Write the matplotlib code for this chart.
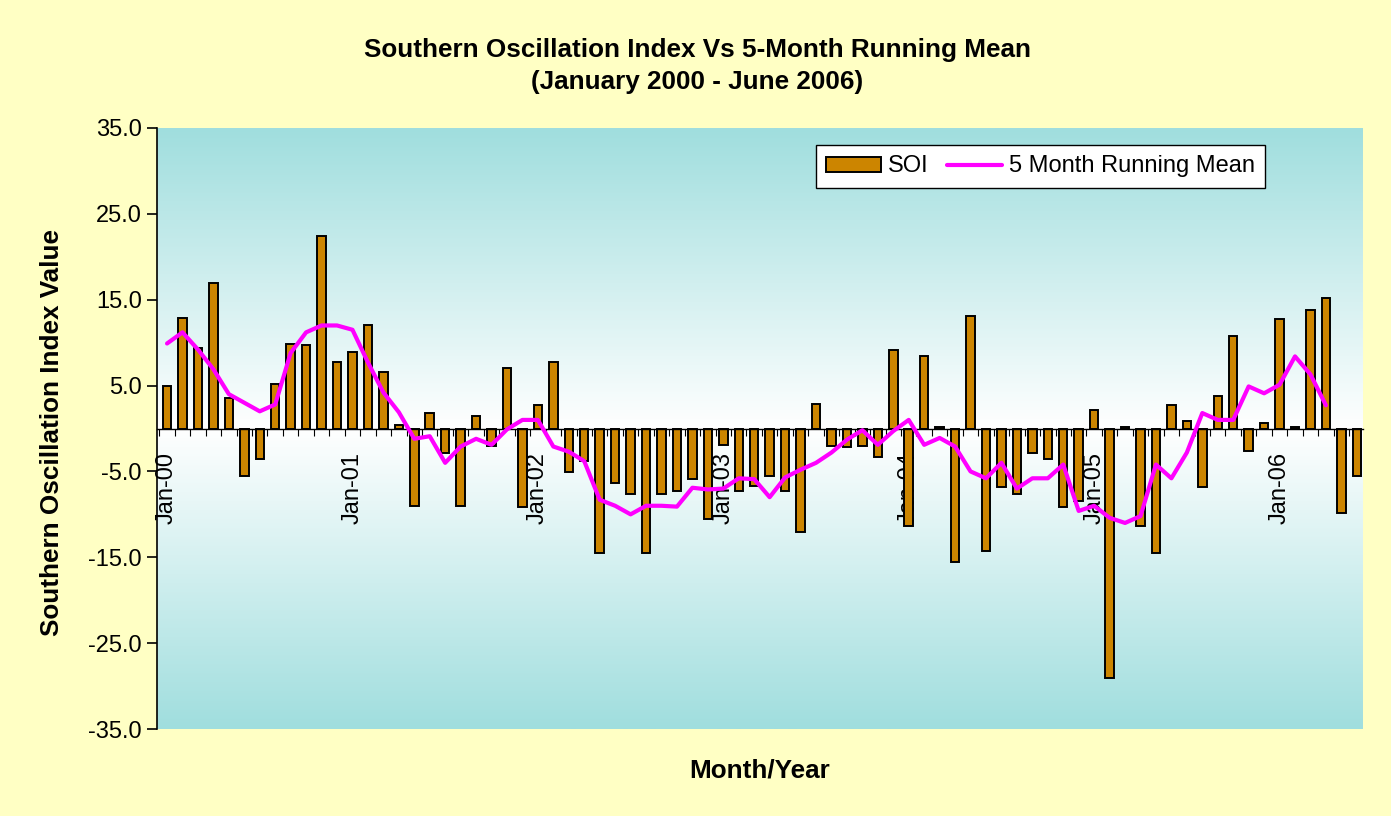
import numpy as np
import matplotlib
matplotlib.use('Agg')
import matplotlib.pyplot as plt

plt.rcParams['font.family'] = ['Liberation Sans', 'DejaVu Sans']

# monthly SOI, Jan 2000 - Jun 2006
soi = [5.0, 12.9, 9.4, 16.9, 3.6, -5.5, -3.6, 5.2, 9.9, 9.7, 22.4, 7.8,
       8.9, 12.0, 6.6, 0.4, -9.0, 1.8, -2.8, -9.0, 1.5, -2.0, 7.1, -9.2,
       2.7, 7.8, -5.1, -3.8, -14.5, -6.3, -7.6, -14.5, -7.6, -7.3, -5.9, -10.5,
       -1.9, -7.3, -6.7, -5.5, -7.3, -12.0, 2.9, -2.0, -2.2, -2.0, -3.3, 9.2,
       -11.4, 8.5, 0.2, -15.5, 13.1, -14.3, -6.8, -7.6, -2.9, -3.6, -9.2, -8.5,
       2.2, -29.1, 0.2, -11.3, -14.5, 2.7, 0.85, -6.8, 3.8, 10.8, -2.6, 0.6,
       12.7, 0.2, 13.8, 15.2, -9.8, -5.5]

# 5 month running mean (ends two months early)
running_mean = [9.9, 11.2, 9.2, 6.9, 4.0, 3.0, 2.0, 2.8, 8.8, 11.2, 12.0, 12.0,
                11.5, 7.7, 4.2, 1.9, -1.2, -0.9, -4.0, -2.1, -1.2, -1.9, -0.1, 1.0,
                1.0, -2.1, -2.7, -3.8, -8.3, -9.0, -10.0, -9.0, -9.0, -9.1, -6.9, -7.1,
                -7.0, -5.8, -5.9, -8.0, -5.7, -4.8, -4.0, -2.8, -1.3, -0.2, -1.9, -0.3,
                1.0, -1.9, -1.1, -2.1, -5.0, -5.8, -4.0, -7.0, -5.8, -5.8, -4.2, -9.6,
                -9.0, -10.4, -11.0, -10.2, -4.2, -5.8, -2.8, 1.8, 1.0, 1.0, 4.9, 4.1,
                5.1, 8.4, 6.3, 2.7]

year_labels = ['Jan-00', 'Jan-01', 'Jan-02', 'Jan-03', 'Jan-04', 'Jan-05', 'Jan-06']
y_ticks = [35, 25, 15, 5, -5, -15, -25, -35]

x = np.arange(len(soi))
xm = np.arange(len(running_mean))

fig = plt.figure(figsize=(13.91, 8.16), dpi=100, facecolor='#FFFFC4')
ax = fig.add_axes([157 / 1391, 87 / 816, 1206 / 1391, 601 / 816])
ax.set_facecolor('white')

# teal -> white -> teal background
teal = np.array([160, 222, 222]) / 255.0
t = np.abs(np.linspace(-1, 1, 256))[:, None]
grad = 1 - t * (1 - teal)[None, :]
grad = grad[:, None, :]
ax.imshow(grad, extent=[0, 1, 0, 1], transform=ax.transAxes, aspect='auto', zorder=0)

bars = ax.bar(x, soi, width=0.55, color='#CC8500', edgecolor='black', linewidth=1.4,
              zorder=2, label='SOI')
line, = ax.plot(xm, running_mean, color='#FF00FF', linewidth=3.0, zorder=3,
                solid_joinstyle='round', solid_capstyle='round',
                label='5 Month Running Mean')

ax.set_xlim(-0.65, 77.4)
ax.set_ylim(-35, 35)

for s in ['top', 'right']:
    ax.spines[s].set_visible(False)
ax.spines['bottom'].set_position(('data', 0))
ax.spines['bottom'].set_linewidth(1.0)
ax.spines['left'].set_linewidth(1.2)

ax.set_yticks(y_ticks)
ax.set_yticklabels(['%.1f' % v for v in y_ticks])
ax.tick_params(axis='y', direction='out', length=7, width=1.2, pad=4, labelsize=17)

ax.set_xticks(np.arange(0, len(soi), 12))
ax.set_xticklabels(year_labels, rotation=90, va='top', ha='center')
ax.set_xticks(np.arange(len(soi)) - 0.5, minor=True)
ax.tick_params(axis='x', which='major', length=0, pad=17, labelsize=17)
ax.tick_params(axis='x', which='minor', direction='out', length=5, width=0.8)

leg = ax.legend([bars, line], ['SOI', '5 Month Running Mean'],
                loc='upper right', bbox_to_anchor=(0.919, 0.972), ncol=2,
                fontsize=17, frameon=True, fancybox=False, borderaxespad=0,
                handlelength=2.3, handleheight=0.6, columnspacing=0.8,
                handletextpad=0.3, borderpad=0.45)
leg.get_frame().set_edgecolor('black')
leg.get_frame().set_linewidth(1.0)
leg.get_frame().set_facecolor('white')
leg.get_frame().set_alpha(1)

fig.text(697 / 1391, 1 - 50 / 816, 'Southern Oscillation Index Vs 5-Month Running Mean',
         ha='center', va='center', fontsize=18.8, fontweight='bold')
fig.text(697 / 1391, 1 - 82 / 816, '(January 2000 - June 2006)',
         ha='center', va='center', fontsize=18.8, fontweight='bold')
fig.text(52 / 1391, 1 - 433 / 816, 'Southern Oscillation Index Value',
         ha='center', va='center', rotation=90, fontsize=18.8, fontweight='bold')
fig.text(760 / 1391, 1 - 771 / 816, 'Month/Year',
         ha='center', va='center', fontsize=18.8, fontweight='bold')

fig.savefig('out.png', dpi=100, facecolor=fig.get_facecolor())
